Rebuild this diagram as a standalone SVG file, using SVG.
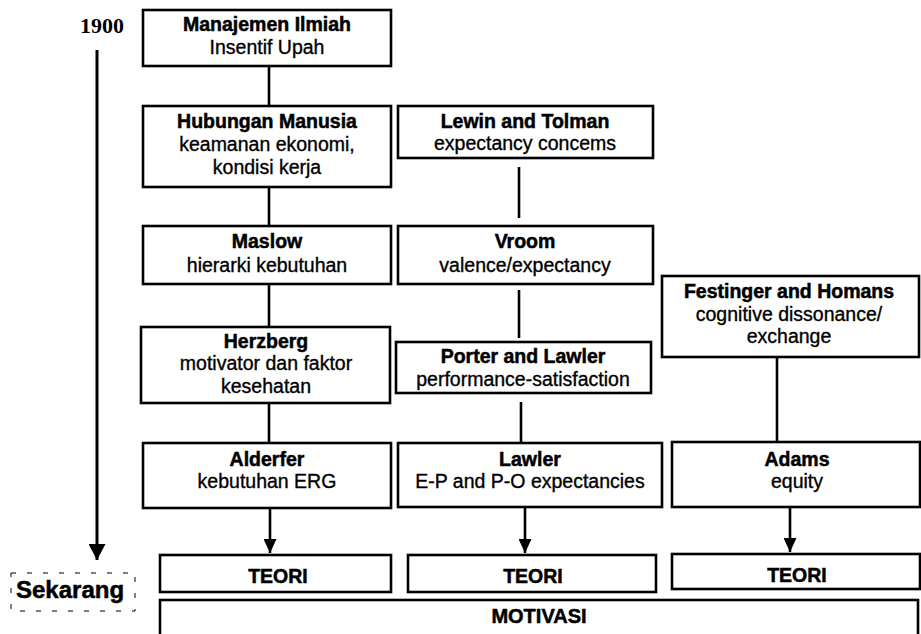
<svg xmlns="http://www.w3.org/2000/svg" width="921" height="634" viewBox="0 0 921 634">
  <style>
    .box { fill: #ffffff; stroke: #000000; stroke-width: 2.6; }
    .line { stroke: #000000; stroke-width: 2.6; fill: none; }
    .t { font-family: "Liberation Sans", Arial, sans-serif; font-size: 19.5px; fill: #000000; stroke: #000000; stroke-width: 0.35; text-anchor: middle; }
    .b { font-weight: bold; stroke-width: 0.5; }
    .year { font-family: "Liberation Serif", "Times New Roman", serif; font-size: 22px; font-weight: bold; fill: #000000; }
    .now { font-family: "Liberation Sans", Arial, sans-serif; font-size: 24px; font-weight: bold; fill: #000000; stroke: #000000; stroke-width: 0.5; }
  </style>
  <defs>
    <marker id="head" viewBox="0 0 14 13" refX="14" refY="6.5" markerWidth="14" markerHeight="13" markerUnits="userSpaceOnUse" orient="auto">
      <path d="M0,0 L14,6.5 L0,13 Z" fill="#000000"/>
    </marker>
    <marker id="headBig" viewBox="0 0 16 17" refX="16" refY="8.5" markerWidth="16" markerHeight="17" markerUnits="userSpaceOnUse" orient="auto">
      <path d="M0,0 L16,8.5 L0,17 Z" fill="#000000"/>
    </marker>
  </defs>

  <rect width="921" height="634" fill="#ffffff"/>

  <!-- time axis -->
  <g id="timeline">
    <text class="year" x="80" y="33">1900</text>
    <line x1="97" y1="50" x2="97" y2="560" stroke="#000" stroke-width="3" marker-end="url(#headBig)"/>
    <rect x="11" y="573" width="124" height="38" fill="none" stroke="#000" stroke-width="1" stroke-dasharray="5 11"/>
    <text class="now" x="16" y="598">Sekarang</text>
  </g>

  <!-- connectors -->
  <g id="connectors">
    <line class="line" x1="269" y1="66" x2="269" y2="106"/>
    <line class="line" x1="269" y1="187" x2="269" y2="226"/>
    <line class="line" x1="269" y1="284" x2="269" y2="327"/>
    <line class="line" x1="269" y1="403" x2="269" y2="443"/>
    <line class="line" x1="519" y1="167" x2="519" y2="218"/>
    <line class="line" x1="519" y1="290" x2="519" y2="338"/>
    <line class="line" x1="521" y1="402" x2="521" y2="443"/>
    <line class="line" x1="777" y1="357" x2="777" y2="442"/>
    <line class="line" x1="270" y1="508" x2="270" y2="553" marker-end="url(#head)"/>
    <line class="line" x1="525" y1="507" x2="525" y2="553" marker-end="url(#head)"/>
    <line class="line" x1="790" y1="507" x2="790" y2="552" marker-end="url(#head)"/>
  </g>

  <!-- left column -->
  <g id="manajemen-ilmiah">
    <rect class="box" x="143" y="10" width="248" height="56"/>
    <text class="t b" x="267" y="31">Manajemen Ilmiah</text>
    <text class="t" x="267" y="54">Insentif Upah</text>
  </g>
  <g id="hubungan-manusia">
    <rect class="box" x="143" y="106" width="248" height="81"/>
    <text class="t b" x="267" y="128">Hubungan Manusia</text>
    <text class="t" x="267" y="151">keamanan ekonomi,</text>
    <text class="t" x="267" y="174">kondisi kerja</text>
  </g>
  <g id="maslow">
    <rect class="box" x="143" y="226" width="248" height="58"/>
    <text class="t b" x="267" y="248">Maslow</text>
    <text class="t" x="267" y="272">hierarki kebutuhan</text>
  </g>
  <g id="herzberg">
    <rect class="box" x="141" y="327" width="249" height="76"/>
    <text class="t b" x="266" y="348">Herzberg</text>
    <text class="t" x="266" y="370">motivator dan faktor</text>
    <text class="t" x="266" y="393">kesehatan</text>
  </g>
  <g id="alderfer">
    <rect class="box" x="143" y="443" width="248" height="65"/>
    <text class="t b" x="267" y="466">Alderfer</text>
    <text class="t" x="267" y="488">kebutuhan ERG</text>
  </g>

  <!-- middle column -->
  <g id="lewin-tolman">
    <rect class="box" x="398" y="106" width="255" height="52"/>
    <text class="t b" x="525" y="128">Lewin and Tolman</text>
    <text class="t" x="525" y="150">expectancy concems</text>
  </g>
  <g id="vroom">
    <rect class="box" x="398" y="226" width="255" height="58"/>
    <text class="t b" x="525" y="248">Vroom</text>
    <text class="t" x="525" y="272">valence/expectancy</text>
  </g>
  <g id="porter-lawler">
    <rect class="box" x="396" y="342" width="255" height="51"/>
    <text class="t b" x="523" y="363">Porter and Lawler</text>
    <text class="t" x="523" y="386">performance-satisfaction</text>
  </g>
  <g id="lawler">
    <rect class="box" x="398" y="443" width="264" height="64"/>
    <text class="t b" x="530" y="466">Lawler</text>
    <text class="t" x="530" y="488">E-P and P-O expectancies</text>
  </g>

  <!-- right column -->
  <g id="festinger-homans">
    <rect class="box" x="662" y="276" width="257" height="81"/>
    <text class="t b" x="789" y="298">Festinger and Homans</text>
    <text class="t" x="789" y="321">cognitive dissonance/</text>
    <text class="t" x="789" y="343">exchange</text>
  </g>
  <g id="adams">
    <rect class="box" x="672" y="442" width="248" height="65"/>
    <text class="t b" x="797" y="466">Adams</text>
    <text class="t" x="797" y="488">equity</text>
  </g>

  <!-- outcome row -->
  <g id="teori-1">
    <rect class="box" x="160" y="555" width="231" height="37"/>
    <text class="t b" x="278" y="583">TEORI</text>
  </g>
  <g id="teori-2">
    <rect class="box" x="408" y="555" width="248" height="37"/>
    <text class="t b" x="533" y="583">TEORI</text>
  </g>
  <g id="teori-3">
    <rect class="box" x="672" y="554" width="248" height="35"/>
    <text class="t b" x="797" y="582">TEORI</text>
  </g>
  <g id="motivasi">
    <rect class="box" x="160" y="600" width="758" height="50"/>
    <text class="t b" x="539" y="623" style="font-size:20px">MOTIVASI</text>
  </g>
</svg>
